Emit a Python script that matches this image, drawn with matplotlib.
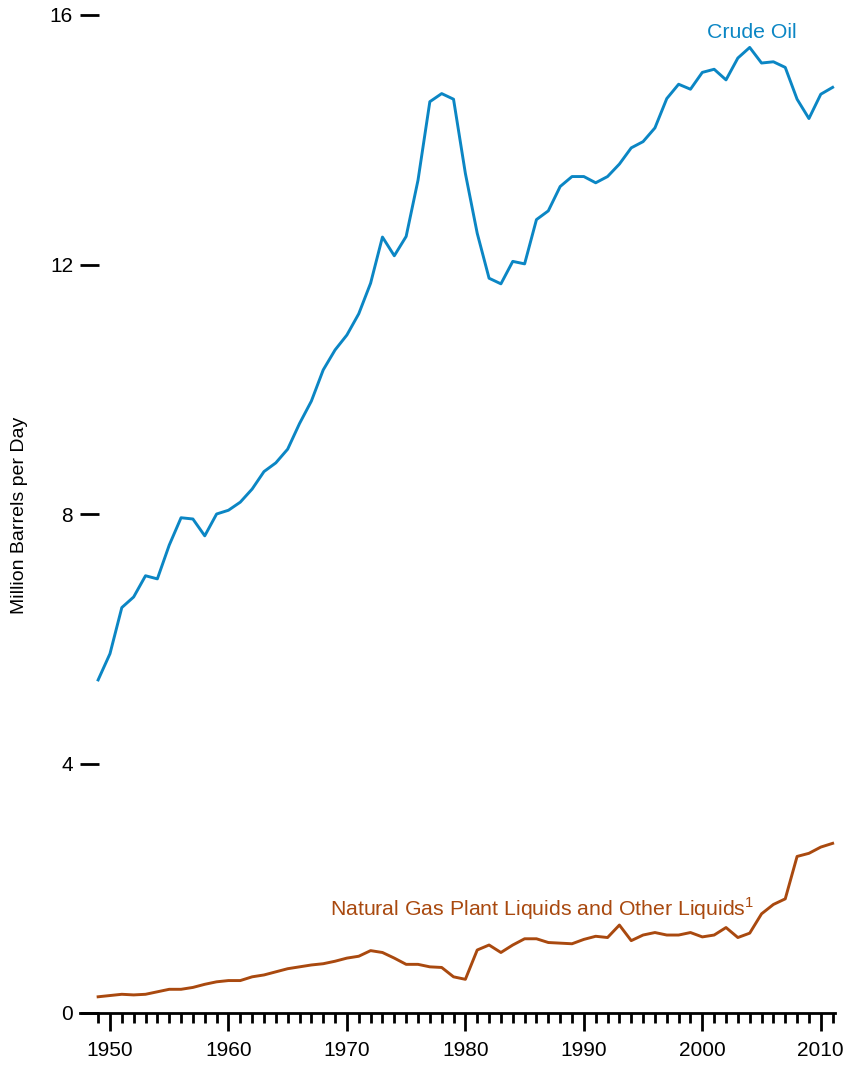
import matplotlib
matplotlib.use('Agg')
import matplotlib.pyplot as plt
import numpy as np
from matplotlib.ticker import MultipleLocator

plt.rcParams.update({
    'font.family': ['Liberation Sans', 'DejaVu Sans'],
    'font.size': 15,
})

years = np.arange(1949, 2012)

crude_oil = [
    5.34, 5.76, 6.50, 6.67, 7.01, 6.96, 7.50, 7.94, 7.92, 7.65,   # 1949-1958
    8.00, 8.06, 8.19, 8.40, 8.68, 8.82, 9.04, 9.45, 9.81, 10.31,  # 1959-1968
    10.63, 10.87, 11.21, 11.70, 12.44, 12.14, 12.45, 13.35, 14.61, 14.74,  # 1969-1978
    14.65, 13.46, 12.50, 11.78, 11.69, 12.05, 12.01, 12.72, 12.86, 13.25,  # 1979-1988
    13.41, 13.41, 13.31, 13.41, 13.61, 13.87, 13.97, 14.19, 14.66, 14.89,  # 1989-1998
    14.81, 15.08, 15.13, 14.96, 15.31, 15.48, 15.23, 15.25, 15.16, 14.65,  # 1999-2008
    14.34, 14.73, 14.84,                                                  # 2009-2011
]

ngl_other = [
    0.26, 0.28, 0.30, 0.29, 0.30, 0.34, 0.38, 0.38, 0.41, 0.46,
    0.50, 0.52, 0.52, 0.58, 0.61, 0.66, 0.71, 0.74, 0.77, 0.79,
    0.83, 0.88, 0.91, 1.00, 0.97, 0.88, 0.78, 0.78, 0.74, 0.73,
    0.58, 0.54, 1.01, 1.09, 0.97, 1.09, 1.19, 1.19, 1.13, 1.12,
    1.11, 1.18, 1.23, 1.21, 1.41, 1.16, 1.25, 1.29, 1.25, 1.25,
    1.29, 1.22, 1.25, 1.37, 1.21, 1.28, 1.59, 1.74, 1.83, 2.51,
    2.56, 2.66, 2.72,
]

blue = '#0b86c4'
brown = '#a9490f'

fig = plt.figure(figsize=(8.48, 10.66), dpi=100)
ax = fig.add_axes([80 / 848, 53 / 1066, 755 / 848, 998 / 1066])

ax.plot(years, crude_oil, color=blue, linewidth=2.1)
ax.plot(years, ngl_other, color=brown, linewidth=2.1)

ax.text(2004.2, 15.72, 'Crude Oil', color=blue, ha='center', va='center',
        fontsize=15.3)
ax.text(1986.5, 1.68, r'Natural Gas Plant Liquids and Other Liquids$^{\mathregular{1}}$',
        color=brown, ha='center', va='center', fontsize=15.3)

ax.set_xlim(1947.47, 2011.2)
ax.set_ylim(0, 16)

for side in ['top', 'right', 'left']:
    ax.spines[side].set_visible(False)
ax.spines['bottom'].set_linewidth(2)

ax.xaxis.set_major_locator(MultipleLocator(10))
ax.set_xticks(years, minor=True)
ax.tick_params(axis='x', which='major', direction='out', length=13, width=2,
               labelsize=15, pad=7)
ax.tick_params(axis='x', which='minor', direction='out', length=7, width=2)

ax.set_yticks([0, 4, 8, 12, 16])
ax.tick_params(axis='y', which='major', direction='in', length=14, width=2,
               labelsize=15, pad=5)

fig.text(20 / 848, 1 - 515 / 1066, 'Million Barrels per Day', rotation=90,
         ha='center', va='center', fontsize=14)

fig.savefig('out.png', dpi=100)
